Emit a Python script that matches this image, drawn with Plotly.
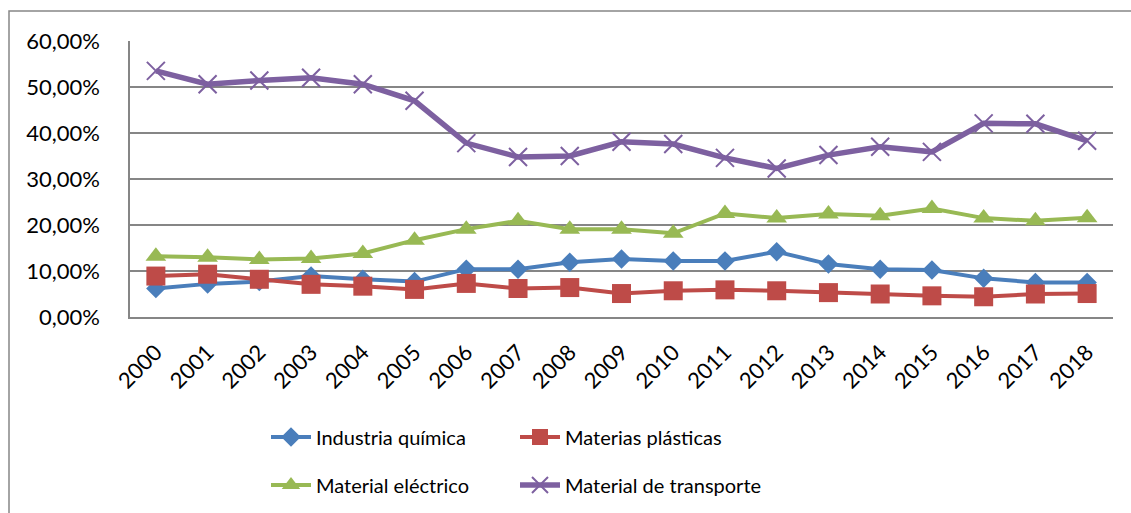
import plotly.graph_objects as go

years = [str(y) for y in range(2000, 2019)]
quimica = [6.2, 7.2, 7.7, 8.9, 8.2, 7.7, 10.4, 10.4, 11.9, 12.6, 12.2, 12.2, 14.2, 11.5, 10.4, 10.2, 8.4, 7.5, 7.5]
plasticas = [8.9, 9.3, 8.2, 7.1, 6.7, 6.0, 7.3, 6.2, 6.4, 5.1, 5.7, 5.9, 5.7, 5.3, 5.0, 4.6, 4.4, 5.0, 5.1]
electrico = [13.2, 13.0, 12.5, 12.7, 13.8, 16.7, 19.1, 20.9, 19.1, 19.1, 18.2, 22.5, 21.5, 22.4, 22.0, 23.6, 21.5, 20.9, 21.6]
transporte = [53.5, 50.6, 51.4, 52.0, 50.6, 47.0, 37.8, 34.8, 35.0, 38.1, 37.6, 34.6, 32.3, 35.2, 37.0, 35.9, 42.1, 42.0, 38.3]

names = ["Industria química", "Materias plásticas", "Material eléctrico", "Material de transporte"]
colors = ["#4A7EBB", "#BE4B48", "#98B954", "#7D60A0"]

FONT = "Lato"

fig = go.Figure()
fig.add_trace(go.Scatter(x=years, y=quimica, name=names[0], mode="lines+markers",
                         line=dict(color=colors[0], width=4),
                         marker=dict(symbol="diamond", size=15, color=colors[0]),
                         legend="legend"))
fig.add_trace(go.Scatter(x=years, y=plasticas, name=names[1], mode="lines+markers",
                         line=dict(color=colors[1], width=4),
                         marker=dict(symbol="square", size=19, color=colors[1]),
                         legend="legend"))
fig.add_trace(go.Scatter(x=years, y=electrico, name=names[2], mode="lines+markers",
                         line=dict(color=colors[2], width=4),
                         marker=dict(symbol="triangle-up", size=18, color=colors[2]),
                         legend="legend2"))
fig.add_trace(go.Scatter(x=years, y=transporte, name=names[3], mode="lines+markers",
                         line=dict(color=colors[3], width=5.5),
                         marker=dict(symbol="x-thin-open", size=18, color=colors[3],
                                     line=dict(color=colors[3], width=2)),
                         legend="legend2"))

legend_common = dict(orientation="h", xref="container", yref="container",
                     xanchor="left", yanchor="middle",
                     font=dict(family=FONT, size=20, color="#000000"),
                     entrywidth=194, entrywidthmode="pixels",
                     bgcolor="rgba(0,0,0,0)", itemwidth=40)

fig.update_layout(
    width=1131, height=513,
    margin=dict(l=130, r=18, t=41, b=196),
    paper_bgcolor="#FFFFFF", plot_bgcolor="#FFFFFF",
    font=dict(family=FONT, size=20, color="#000000"),
    showlegend=True,
    legend=dict(legend_common, x=266 / 1131, y=1 - 437 / 513),
    legend2=dict(legend_common, x=266 / 1131, y=1 - 485 / 513),
    xaxis=dict(type="category", range=[-0.5, 18.5], showgrid=False,
               showline=True, linecolor="#868686", linewidth=1.5,
               tickangle=-45, ticks="", ticklabelstandoff=12, automargin=False,
               tickfont=dict(family=FONT, size=22, color="#000000")),
    yaxis=dict(range=[0, 60], dtick=10, tickformat=".2f", ticksuffix="%",
               showgrid=True, gridcolor="#868686", gridwidth=1.5,
               showline=True, linecolor="#868686", linewidth=1.5,
               zeroline=False, ticks="", ticklabelstandoff=24, automargin=False,
               tickfont=dict(family=FONT, size=22, color="#000000")),
    separators=",.",
    shapes=[dict(type="rect", xref="paper", yref="paper",
                 x0=(9 - 130) / 983, x1=1.2, y0=-1.5, y1=1 + (41 - 11) / 276,
                 line=dict(color="#868686", width=1.5), fillcolor="rgba(0,0,0,0)",
                 layer="below")],
)

fig.write_html("out.html", config={"displayModeBar": False},
               post_script="document.body.style.margin='0';document.body.style.overflow='hidden';")
